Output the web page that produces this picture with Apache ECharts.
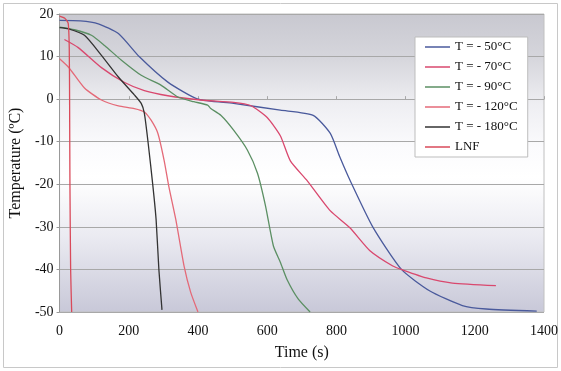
<!DOCTYPE html>
<html><head><meta charset="utf-8">
<script src="https://cdn.jsdelivr.net/npm/echarts@6/dist/echarts.min.js"></script>
<style>html,body{margin:0;padding:0;background:#fff}#c{width:561px;height:371px}</style>
</head><body><div id="c"></div>
<script>
const seriesNames = ['T = - 50°C','T = - 70°C','T = - 90°C','T = - 120°C','T = - 180°C','LNF'];
const t50 = [0, 60, 112, 170, 230, 313, 400, 503, 638, 733, 782, 810, 839, 905, 988, 1069, 1164, 1233, 1379];
const T50 = [18.5, 18.4, 17.7, 15.4, 10, 4, 0, -1, -2.6, -3.8, -8, -13.6, -19, -30, -40, -45, -48.5, -49.3, -49.8];
const t70 = [14, 54, 121, 188, 245, 313, 408, 503, 552, 600, 638, 667, 716, 782, 839, 897, 963, 991, 1060, 1135, 1261];
const T70 = [14, 12.1, 7.4, 3.9, 2, 0.8, -0.2, -0.75, -1.5, -4.3, -8.6, -14.5, -19.2, -26.2, -30.2, -35.6, -39.2, -40.1, -42, -43.2, -43.8];
const t90 = [0, 43, 92, 130, 178, 236, 293, 342, 388, 428, 437, 466, 503, 543, 572, 595, 618, 638, 658, 690, 724];
const T90 = [16.9, 16.3, 15, 12.6, 9.2, 5.6, 3.3, 0.5, -0.6, -1.4, -2.2, -3.8, -7.3, -12, -17.4, -25, -34.5, -38.3, -42.5, -47, -50];
const t120 = [0, 26, 72, 121, 170, 216, 245, 265, 284, 302, 316, 336, 360, 379, 400];
const T120 = [9.5, 7.5, 2.6, -0.2, -1.6, -2.2, -3, -5, -8, -14.3, -20.6, -28.3, -39.3, -45.4, -50];
const t180 = [0, 26, 72, 121, 170, 216, 236, 245, 256, 270, 279, 287, 296];
const T180 = [16.8, 16.5, 15, 10.3, 5.2, 1, -1, -3.3, -10.3, -20.6, -28.3, -40, -49.5];
const tLNF = [0, 15, 25, 28, 29, 30, 32, 35];
const TLNF = [19.5, 19, 17.8, 12, 0, -20, -40, -50];
const xTicks = {min: 0, max: 1400, interval: 200};
const yTicks = {min: -50, max: 20, interval: 10};

const colors = ['#4a5a9c', '#d9486e', '#5b8f63', '#e46a78', '#333333', '#d94a5a'];
const tArr = [t50, t70, t90, t120, t180, tLNF];
const vArr = [T50, T70, T90, T120, T180, TLNF];
const zip = (a, b) => a.map((v, i) => [v, b[i]]);
const serif = "'Liberation Serif', serif";

const chart = echarts.init(document.getElementById('c'));
chart.setOption({
  animation: false,
  color: colors,
  graphic: [{
    type: 'rect', shape: {x: 3.5, y: 3.5, width: 554, height: 364},
    style: {fill: 'none', stroke: '#c8c8c8', lineWidth: 1}, z: -10
  }],
  grid: {
    left: 58, right: 16, top: 14, bottom: 59, show: true, borderColor: '#c0c0c0', borderWidth: 1,
    backgroundColor: new echarts.graphic.LinearGradient(0, 0, 0, 1, [
      {offset: 0, color: '#c8c8d0'},
      {offset: 0.15, color: '#d6d6dc'},
      {offset: 0.3, color: '#eeeef2'},
      {offset: 0.45, color: '#fbfbfd'},
      {offset: 0.55, color: '#ffffff'},
      {offset: 0.75, color: '#eaeaf1'},
      {offset: 1, color: '#c8c8d8'}
    ])
  },
  legend: {
    orient: 'vertical', left: 415, top: 37,
    data: seriesNames,
    icon: 'rect', itemWidth: 25, itemHeight: 1.5, itemGap: 6,
    padding: [3, 10, 3, 10],
    backgroundColor: '#ffffff', borderColor: '#bdbdbd', borderWidth: 1,
    textStyle: {fontFamily: serif, fontSize: 13, color: '#111', lineHeight: 14}
  },
  xAxis: [{
    type: 'value', min: xTicks.min, max: xTicks.max, interval: xTicks.interval,
    name: 'Time (s)', nameLocation: 'middle', nameGap: 33,
    nameTextStyle: {fontFamily: serif, fontSize: 16, color: '#111'},
    axisLine: {show: false, onZero: false},
    axisTick: {show: false},
    splitLine: {show: false},
    axisLabel: {fontFamily: serif, fontSize: 14, color: '#111', margin: 12, formatter: v => String(v)}
  }, {
    type: 'value', position: 'top', min: xTicks.min, max: xTicks.max, interval: xTicks.interval,
    axisLine: {show: true, onZero: true, lineStyle: {color: '#a8a8a8', width: 1}},
    axisTick: {show: true, length: 3, lineStyle: {color: '#a8a8a8'}},
    axisLabel: {show: false}, splitLine: {show: false}
  }],
  yAxis: {
    type: 'value', min: yTicks.min, max: yTicks.max, interval: yTicks.interval,
    name: 'Temperature (ºC)', nameLocation: 'middle', nameGap: 33,
    nameTextStyle: {fontFamily: serif, fontSize: 16, color: '#111'},
    axisLine: {show: true, lineStyle: {color: '#999999'}},
    axisTick: {show: true, length: 3, lineStyle: {color: '#999999'}},
    splitLine: {show: true, lineStyle: {color: '#a8a8a8', width: 1}},
    axisLabel: {fontFamily: serif, fontSize: 14, color: '#111', margin: 6}
  },
  series: seriesNames.map((n, i) => ({
    name: n, type: 'line', xAxisIndex: 0, symbol: 'none', smooth: 0.2,
    lineStyle: {width: 1.3, color: colors[i]},
    data: zip(tArr[i], vArr[i])
  }))
});
</script></body></html>
